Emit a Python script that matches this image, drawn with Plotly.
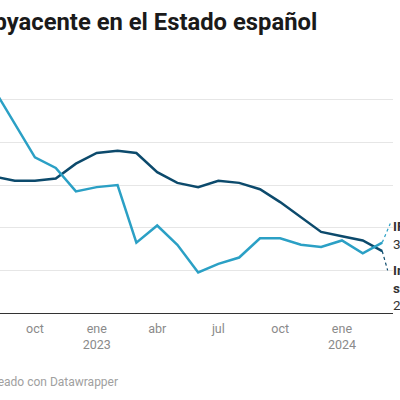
import plotly.graph_objects as go
import pandas as pd

# ---- data ----
months = pd.date_range("2022-08-01", "2024-03-01", freq="MS")
ipc = [10.5, 8.9, 7.3, 6.8, 5.7, 5.9, 6.0, 3.3, 4.1, 3.2, 1.9, 2.3, 2.6, 3.5, 3.5, 3.2, 3.1, 3.4, 2.8, 3.3]
subyacente = [6.4, 6.2, 6.2, 6.3, 7.0, 7.5, 7.6, 7.5, 6.6, 6.1, 5.9, 6.2, 6.1, 5.8, 5.2, 4.5, 3.8, 3.6, 3.4, 2.9]
tick_dates = ["2022-07-01", "2022-10-01", "2023-01-01", "2023-04-01", "2023-07-01", "2023-10-01", "2024-01-01"]
tick_labels = ["jul", "oct", "ene<br>2023", "abr", "jul", "oct", "ene<br>2024"]
y_ticks = [0, 2, 4, 6, 8, 10, 12]

title_text = "<b>IPC e inflación subyacente en el Estado español</b>"
footer_text = "Fuente: INE • Creado con Datawrapper"
ipc_label = "<b>IPC</b><br>3,3 %"
sub_label = "<b>Inflación</b><br><b>subyacente</b><br>2,9 %"

C_IPC = "#2ba0c5"
C_SUB = "#0c4a6c"
FONT = "Roboto"

fig = go.Figure()
fig.add_trace(go.Scatter(x=months, y=subyacente, mode="lines",
                         line=dict(color=C_SUB, width=2.5), hoverinfo="skip"))
fig.add_trace(go.Scatter(x=months, y=ipc, mode="lines",
                         line=dict(color=C_IPC, width=2.5), hoverinfo="skip"))

last_x = months[-1]
# dotted connectors from line ends to labels
fig.add_trace(go.Scatter(x=[last_x, last_x + pd.Timedelta(days=12)],
                         y=[ipc[-1], ipc[-1] + 0.9], mode="lines",
                         line=dict(color=C_IPC, width=1.2, dash="dot"),
                         hoverinfo="skip", cliponaxis=False))
fig.add_trace(go.Scatter(x=[last_x, last_x + pd.Timedelta(days=8)],
                         y=[subyacente[-1], subyacente[-1] - 0.9], mode="lines",
                         line=dict(color=C_SUB, width=1.2, dash="dot"),
                         hoverinfo="skip", cliponaxis=False))

annotations = [
    dict(text=title_text, xref="paper", yref="paper", x=319 / 393, y=1,
         xanchor="right", yanchor="middle", yshift=35, showarrow=False,
         font=dict(family=FONT, size=23.8, color="#1a1a1a"), align="left"),
    dict(text=footer_text, xref="paper", yref="paper", x=119.5 / 393, y=0,
         xanchor="right", yanchor="middle", yshift=-69, showarrow=False,
         font=dict(family=FONT, size=12, color="#a0a0a0")),
    dict(text=ipc_label, xref="paper", yref="y", x=1, y=ipc[-1],
         xanchor="left", yanchor="middle", yshift=8, xshift=-2, showarrow=False,
         align="left", font=dict(family=FONT, size=13.5, color="#333333")),
    dict(text=sub_label, xref="paper", yref="y", x=1, y=subyacente[-1],
         xanchor="left", yanchor="middle", yshift=-36, xshift=-2, showarrow=False,
         align="left", font=dict(family=FONT, size=13.5, color="#333333")),
]

fig.update_layout(
    width=400, height=400, autosize=False,
    margin=dict(l=0, r=7, t=57, b=87),
    paper_bgcolor="white", plot_bgcolor="white",
    showlegend=False,
    font=dict(family=FONT),
    annotations=annotations,
    xaxis=dict(range=["2022-08-10", "2024-03-17"], tickvals=tick_dates,
               ticktext=tick_labels, showgrid=False, zeroline=False,
               showline=False, ticks="outside", ticklen=4, tickcolor="rgba(0,0,0,0)",
               tickfont=dict(family=FONT, size=12.5, color="#8a8a8a"),
               fixedrange=True),
    yaxis=dict(range=[0, 12], tickvals=y_ticks, showticklabels=False,
               showgrid=True, gridcolor="#e6e6e6", gridwidth=1,
               zeroline=True, zerolinecolor="#333333", zerolinewidth=1.3,
               showline=False, fixedrange=True),
)

fig.write_html("out.html", config={"displayModeBar": False},
               post_script="document.body.style.margin='0';document.body.style.overflow='hidden';")
